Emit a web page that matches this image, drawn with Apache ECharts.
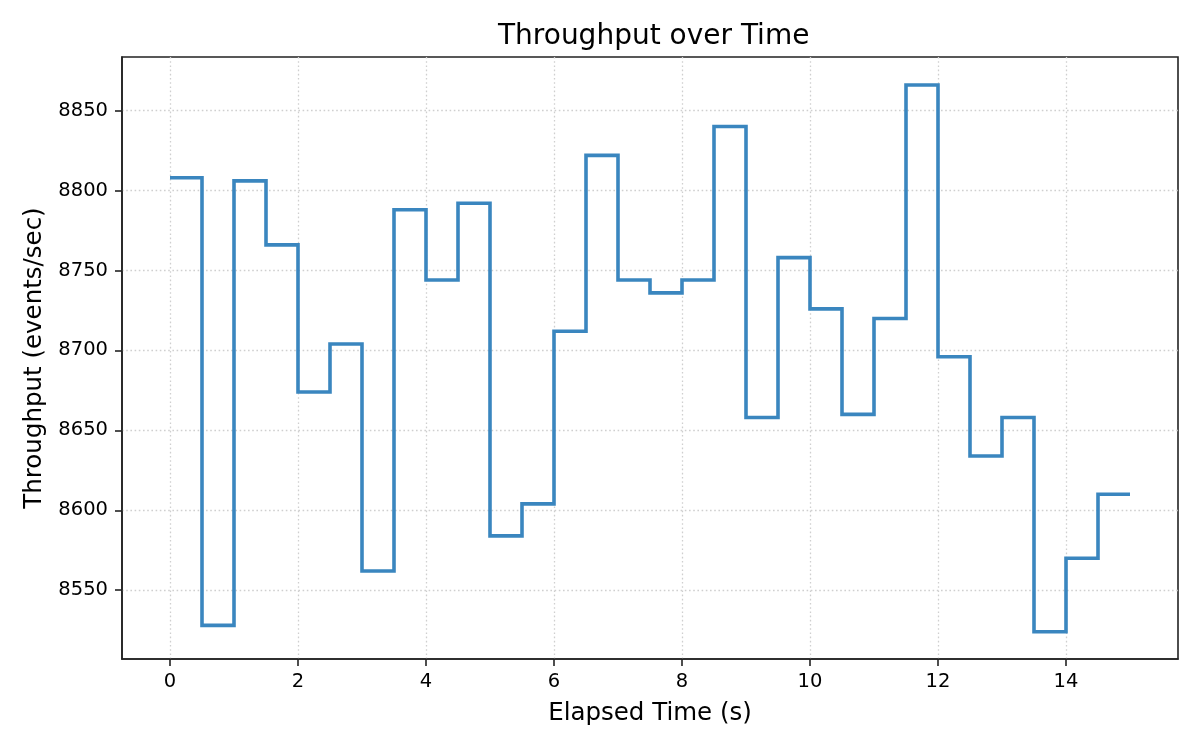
<!DOCTYPE html>
<html>
<head>
<meta charset="utf-8">
<script src="https://cdn.jsdelivr.net/npm/echarts@6/dist/echarts.min.js"></script>
<style>
html,body{margin:0;padding:0;background:#fff;}
#chart{width:1200px;height:750px;}
</style>
</head>
<body>
<div id="chart"></div>
<script>
const times = [0,0.5,1,1.5,2,2.5,3,3.5,4,4.5,5,5.5,6,6.5,7,7.5,8,8.5,9,9.5,10,10.5,11,11.5,12,12.5,13,13.5,14,14.5,15];
const throughput = [8808,8528,8806,8766,8674,8704,8562,8788,8744,8792,8584,8604,8712,8822,8744,8736,8744,8840,8658,8758,8726,8660,8720,8866,8696,8634,8658,8524,8570,8610,8610];
const xTicks = [0,2,4,6,8,10,12,14];
const yTicks = [8550,8600,8650,8700,8750,8800,8850];

const chart = echarts.init(document.getElementById('chart'));
const font = 'DejaVu Sans';
chart.setOption({
  animation: false,
  backgroundColor: '#ffffff',
  title: {
    text: 'Throughput over Time',
    left: 493,
    top: 18,
    textStyle: {fontFamily: font, fontSize: 28, fontWeight: 'normal', color: '#000'}
  },
  grid: {left: 122, right: 22, top: 57, bottom: 91, show: true, borderColor: '#222', borderWidth: 1.6, backgroundColor: 'transparent'},
  xAxis: {
    type: 'value',
    min: -0.75,
    max: 15.75,
    name: 'Elapsed Time (s)',
    nameLocation: 'middle',
    nameGap: 42,
    nameTextStyle: {fontFamily: font, fontSize: 24.5, color: '#000'},
    axisLine: {show: true, onZero: false, lineStyle: {color: '#222', width: 1.6}},
    axisTick: {show: true, inside: false, length: 7, customValues: xTicks, lineStyle: {color: '#222', width: 1.6}},
    axisLabel: {customValues: xTicks, fontFamily: font, fontSize: 19.5, color: '#000', margin: 13, formatter: v => String(v)},
    splitLine: {show: true, lineStyle: {color: '#cfcfcf', type: [1.6, 2.6], width: 1.3}}
  },
  yAxis: {
    type: 'value',
    min: 8507,
    max: 8883.5,
    name: 'Throughput (events/sec)',
    nameLocation: 'middle',
    nameGap: 72,
    nameTextStyle: {fontFamily: font, fontSize: 24.5, color: '#000'},
    axisLine: {show: true, onZero: false, lineStyle: {color: '#222', width: 1.6}},
    axisTick: {show: true, inside: false, length: 7, customValues: yTicks, lineStyle: {color: '#222', width: 1.6}},
    axisLabel: {customValues: yTicks, fontFamily: font, fontSize: 19.5, color: '#000', margin: 14, formatter: v => String(v)},
    splitLine: {show: true, lineStyle: {color: '#cfcfcf', type: [1.6, 2.6], width: 1.3}}
  },
  series: [{
    type: 'line',
    step: 'end',
    data: times.map((t, i) => [t, throughput[i]]),
    showSymbol: false,
    symbol: 'none',
    lineStyle: {color: '#3a86bf', width: 3.6, join: 'miter', cap: 'butt'},
    itemStyle: {color: '#3a86bf'},
    z: 3
  }]
});
</script>
</body>
</html>
